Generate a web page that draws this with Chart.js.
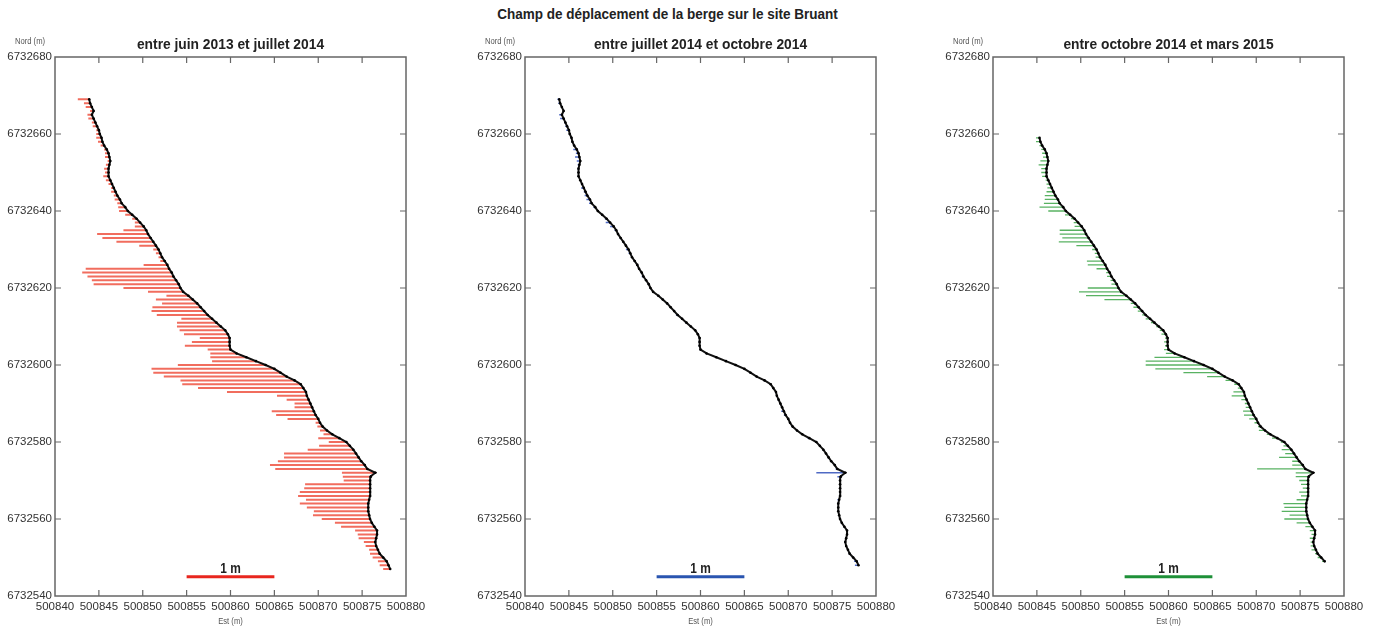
<!DOCTYPE html>
<html lang="fr">
<head>
<meta charset="UTF-8">
<title>Champ de déplacement de la berge sur le site Bruant</title>
<script src="https://cdn.jsdelivr.net/npm/chart.js"></script>
<style>
    body {
        margin: 0;
        background: #fff;
        width: 1379px;
        height: 632px;
        position: relative;
        overflow: hidden;
        font-family: 'Liberation Sans', Arial, sans-serif;
    }
    h1 {
        position: absolute;
        top: 5px;
        left: 0;
        width: 1335px;
        margin: 0;
        text-align: center;
        font-size: 15px;
        font-weight: bold;
        color: #222;
        transform: scaleX(0.9);
    }
    canvas { position: absolute; top: 0; }
</style>
</head>
<body>
<h1>Champ de déplacement de la berge sur le site Bruant</h1>
<canvas id="c1" width="440" height="632" style="left:0px"></canvas>
<canvas id="c2" width="440" height="632" style="left:470px"></canvas>
<canvas id="c3" width="440" height="632" style="left:938px"></canvas>
<script>
// bank line (northing / easting, m)
const BANK_N = [
    6732547, 6732548, 6732549, 6732550, 6732551, 6732552, 6732553, 6732554, 6732555, 6732556,
    6732557, 6732558, 6732559, 6732560, 6732561, 6732562, 6732563, 6732564, 6732565, 6732566,
    6732567, 6732568, 6732569, 6732570, 6732571, 6732572, 6732573, 6732574, 6732575, 6732576,
    6732577, 6732578, 6732579, 6732580, 6732581, 6732582, 6732583, 6732584, 6732585, 6732586,
    6732587, 6732588, 6732589, 6732590, 6732591, 6732592, 6732593, 6732594, 6732595, 6732596,
    6732597, 6732598, 6732599, 6732600, 6732601, 6732602, 6732603, 6732604, 6732605, 6732606,
    6732607, 6732608, 6732609, 6732610, 6732611, 6732612, 6732613, 6732614, 6732615, 6732616,
    6732617, 6732618, 6732619, 6732620, 6732621, 6732622, 6732623, 6732624, 6732625, 6732626,
    6732627, 6732628, 6732629, 6732630, 6732631, 6732632, 6732633, 6732634, 6732635, 6732636,
    6732637, 6732638, 6732639, 6732640, 6732641, 6732642, 6732643, 6732644, 6732645, 6732646,
    6732647, 6732648, 6732649, 6732650, 6732651, 6732652, 6732653, 6732654, 6732655, 6732656,
    6732657, 6732658, 6732659, 6732660, 6732661, 6732662, 6732663, 6732664, 6732665, 6732666,
    6732667, 6732668, 6732669
];
const BANK_E = [
    500878.2, 500878.0, 500877.8, 500877.4, 500877.0, 500876.8, 500876.6, 500876.5, 500876.6, 500876.7,
    500876.7, 500876.4, 500876.1, 500875.9, 500875.8, 500875.7, 500875.7, 500875.7, 500875.8, 500875.9,
    500875.9, 500875.9, 500875.9, 500875.9, 500876.0, 500876.5, 500875.6, 500875.3, 500874.9, 500874.6,
    500874.3, 500874.0, 500873.6, 500873.2, 500872.4, 500871.6, 500871.0, 500870.5, 500870.2, 500870.0,
    500869.7, 500869.5, 500869.3, 500869.1, 500868.9, 500868.7, 500868.6, 500868.3, 500868.0, 500867.3,
    500866.4, 500865.7, 500865.0, 500864.0, 500862.9, 500861.8, 500860.7, 500860.0, 500859.9, 500859.9,
    500859.9, 500859.7, 500859.4, 500858.9, 500858.4, 500857.9, 500857.4, 500857.0, 500856.6, 500856.2,
    500855.7, 500855.2, 500854.6, 500854.3, 500854.1, 500853.8, 500853.5, 500853.3, 500853.0, 500852.8,
    500852.5, 500852.2, 500852.0, 500851.8, 500851.5, 500851.2, 500850.9, 500850.6, 500850.4, 500850.1,
    500849.7, 500849.3, 500848.8, 500848.3, 500848.0, 500847.6, 500847.4, 500847.1, 500846.9, 500846.7,
    500846.5, 500846.3, 500846.1, 500846.1, 500846.1, 500846.2, 500846.3, 500846.2, 500846.1, 500845.9,
    500845.6, 500845.4, 500845.3, 500845.1, 500845.0, 500844.8, 500844.6, 500844.4, 500844.2, 500844.4,
    500844.2, 500844.0, 500843.9
];

// displacement toward the west (m), one value per bank point, null = not surveyed
const DISP_2013_2014 = [
    0.08, 0.10, 0.10, 0.12, 0.11, 0.10, 0.12, 0.13, 0.20, 0.22,
    0.25, 0.38, 0.42, 0.55, 0.64, 0.62, 0.70, 0.78, 0.72, 0.82,
    0.80, 0.75, 0.74, 0.30, 0.32, 0.38, 1.05, 1.08, 0.95, 0.85,
    0.82, 0.52, 0.35, 0.20, 0.24, 0.10, 0.08, 0.06, 0.05, 0.35,
    0.45, 0.48, 0.20, 0.18, 0.25, 0.34, 0.90, 1.20, 1.35, 1.30,
    1.40, 1.45, 1.40, 1.00, 0.50, 0.41, 0.30, 0.26, 0.51, 0.43,
    0.34, 0.50, 0.52, 0.50, 0.45, 0.35, 0.58, 0.60, 0.55, 0.40,
    0.42, 0.25, 0.40, 0.65, 0.97, 0.96, 0.98, 1.02, 0.95, 0.27,
    0.05, 0.04, 0.05, 0.06, 0.19, 0.42, 0.55, 0.58, 0.26, 0.10,
    0.06, 0.05, 0.08, 0.10, 0.08, 0.05, 0.06, 0.04, 0.05, 0.03,
    0.04, 0.05, 0.06, 0.04, 0.05, 0.04, 0.03, 0.05, 0.04, 0.03,
    0.04, 0.05, 0.06, 0.04, 0.03, 0.05, 0.04, 0.06, 0.05, 0.04,
    0.07, 0.07, 0.13
];
const DISP_2014_JUL_OCT = [
    null, 0.04, 0.03, 0.01, 0.01, 0.01, 0.01, 0.01, 0.01, 0.01,
    0.01, 0.01, 0.01, 0.01, 0.01, 0.01, 0.01, 0.01, 0.02, 0.01,
    0.01, 0.01, 0.01, 0.01, 0.04, 0.33, 0.02, 0.01, 0.01, 0.01,
    0.01, 0.01, 0.01, 0.01, 0.02, 0.01, 0.01, 0.01, 0.01, 0.01,
    0.02, 0.03, 0.01, 0.01, 0.01, 0.01, 0.01, 0.01, 0.01, 0.01,
    0.01, 0.01, 0.01, 0.01, 0.01, 0.01, 0.01, 0.01, 0.01, 0.01,
    0.01, 0.01, 0.01, 0.01, 0.01, 0.01, 0.02, 0.01, 0.01, 0.01,
    0.01, 0.01, 0.01, 0.01, 0.01, 0.01, 0.02, 0.01, 0.01, 0.01,
    0.01, 0.01, 0.02, 0.03, 0.01, 0.01, 0.01, 0.01, 0.02, 0.04,
    0.05, 0.02, 0.01, 0.01, 0.02, 0.03, 0.04, 0.03, 0.02, 0.03,
    0.01, 0.01, 0.01, 0.01, 0.01, 0.02, 0.04, 0.05, 0.03, 0.04,
    0.01, 0.01, 0.01, 0.01, 0.03, 0.02, 0.01, 0.04, 0.03, 0.01,
    0.01, 0.02, 0.02
];
const DISP_2014_2015 = [
    null, null, 0.03, 0.04, 0.03, 0.05, 0.04, 0.03, 0.05, 0.04,
    0.06, 0.08, 0.15, 0.27, 0.20, 0.28, 0.25, 0.26, 0.12, 0.08,
    0.10, 0.06, 0.08, 0.10, 0.15, 0.20, 0.55, 0.12, 0.08, 0.20,
    0.10, 0.11, 0.05, 0.04, 0.06, 0.04, 0.07, 0.03, 0.04, 0.08,
    0.11, 0.10, 0.05, 0.04, 0.06, 0.15, 0.12, 0.04, 0.05, 0.08,
    0.20, 0.40, 0.65, 0.66, 0.55, 0.34, 0.10, 0.05, 0.03, 0.04,
    0.03, 0.05, 0.04, 0.03, 0.04, 0.05, 0.04, 0.05, 0.06, 0.05,
    0.30, 0.46, 0.48, 0.35, 0.06, 0.04, 0.05, 0.04, 0.12, 0.20,
    0.18, 0.05, 0.04, 0.05, 0.20, 0.37, 0.30, 0.30, 0.28, 0.08,
    0.05, 0.04, 0.06, 0.20, 0.27, 0.18, 0.15, 0.12, 0.08, 0.05,
    0.04, 0.03, 0.05, 0.06, 0.06, 0.10, 0.09, 0.05, 0.05, 0.04,
    0.03, 0.05, 0.04, null, null, null, null, null, null, null,
    null, null, null
];

const VEC_SCALE = 10;              // 1 m of displacement = 10 m on the map
const SCALE_BAR_E = [500855, 500865];
const SCALE_BAR_N = 6732545;
const X_RANGE = [500840, 500880];
const Y_RANGE = [6732540, 6732680];

const FONT = "'Liberation Sans', Arial, sans-serif";

// text squeezed horizontally to mimic the condensed face of the original
function narrowText(ctx, text, x, y, squeeze) {
    ctx.save();
    ctx.translate(x, y);
    ctx.scale(squeeze, 1);
    ctx.fillText(text, 0, 0);
    ctx.restore();
}

const frame = {
    id: 'frame',
    afterDraw(chart, args, opts) {
        const { ctx, chartArea: a, scales: { x, y } } = chart;
        ctx.save();
        ctx.strokeStyle = '#666';
        ctx.lineWidth = 1.5;
        ctx.strokeRect(a.left, a.top, a.right - a.left, a.bottom - a.top);

        ctx.lineWidth = 1.2;
        ctx.beginPath();
        x.ticks.slice(1, -1).forEach(t => {
            const px = x.getPixelForValue(t.value);
            ctx.moveTo(px, a.bottom); ctx.lineTo(px, a.bottom - 6);
            ctx.moveTo(px, a.top); ctx.lineTo(px, a.top + 6);
        });
        y.ticks.slice(1, -1).forEach(t => {
            const py = y.getPixelForValue(t.value);
            ctx.moveTo(a.left, py); ctx.lineTo(a.left + 6, py);
            ctx.moveTo(a.right, py); ctx.lineTo(a.right - 6, py);
        });
        ctx.stroke();

        const cx = (a.left + a.right) / 2;
        ctx.textAlign = 'center';
        ctx.textBaseline = 'middle';
        ctx.fillStyle = '#222';
        ctx.font = `bold 15px ${FONT}`;
        narrowText(ctx, opts.title, cx, 45, 0.92);

        ctx.fillStyle = '#555';
        ctx.font = `9px ${FONT}`;
        narrowText(ctx, 'Nord (m)', 30, 42, 0.85);
        narrowText(ctx, 'Est (m)', cx, 622, 0.85);

        ctx.fillStyle = '#222';
        ctx.font = `bold 14px ${FONT}`;
        narrowText(ctx, '1 m', x.getPixelForValue((SCALE_BAR_E[0] + SCALE_BAR_E[1]) / 2),
            y.getPixelForValue(SCALE_BAR_N) - 8, 0.85);
        ctx.restore();
    }
};

function makePanel(id, title, disp, color) {
    const bank = [];
    const vectors = [];
    disp.forEach((d, i) => {
        if (d === null) return;
        const e = BANK_E[i], n = BANK_N[i];
        bank.push({ x: e, y: n });
        vectors.push({ x: e, y: n }, { x: e - d * VEC_SCALE, y: n }, { x: e, y: null });
    });

    return new Chart(document.getElementById(id), {
        type: 'scatter',
        data: {
            datasets: [
                {
                    data: bank,
                    showLine: true,
                    borderColor: '#111',
                    borderWidth: 2,
                    pointRadius: 1.3,
                    pointBackgroundColor: '#000',
                    pointBorderWidth: 0,
                },
                {
                    data: vectors,
                    showLine: true,
                    spanGaps: false,
                    borderColor: color.vec,
                    borderWidth: color.width,
                    pointRadius: 0,
                },
                {
                    data: SCALE_BAR_E.map(e => ({ x: e, y: SCALE_BAR_N })),
                    showLine: true,
                    borderColor: color.bar,
                    borderWidth: 3,
                    pointRadius: 0,
                },
            ],
        },
        options: {
            responsive: false,
            animation: false,
            layout: { padding: { top: 57, right: 34, left: 0, bottom: 0 } },
            plugins: {
                legend: { display: false },
                tooltip: { enabled: false },
                frame: { title: title },
            },
            scales: {
                x: {
                    min: X_RANGE[0], max: X_RANGE[1],
                    grid: { display: false, drawTicks: false },
                    border: { display: false },
                    afterFit: s => { s.height = 36; },
                    ticks: {
                        stepSize: 5, padding: 4, color: '#333', maxRotation: 0,
                        autoSkip: false,
                        font: { family: FONT, size: 11.5 },
                        callback: v => String(v),
                    },
                },
                y: {
                    min: Y_RANGE[0], max: Y_RANGE[1],
                    grid: { display: false, drawTicks: false },
                    border: { display: false },
                    afterFit: s => { s.width = 55; },
                    ticks: {
                        stepSize: 20, padding: 3, color: '#333',
                        autoSkip: false,
                        font: { family: FONT, size: 11.5 },
                        callback: v => String(v),
                    },
                },
            },
        },
        plugins: [frame],
    });
}

makePanel('c1', 'entre juin 2013 et juillet 2014', DISP_2013_2014,
    { vec: 'rgba(238, 84, 66, 0.85)', bar: '#e8261e', width: 2 });
makePanel('c2', 'entre juillet 2014 et octobre 2014', DISP_2014_JUL_OCT,
    { vec: 'rgba(60, 90, 190, 0.9)', bar: '#2a55b0', width: 1.5 });
makePanel('c3', 'entre octobre 2014 et mars 2015', DISP_2014_2015,
    { vec: 'rgba(60, 165, 70, 0.85)', bar: '#1e9038', width: 1.3 });
</script>
</body>
</html>
